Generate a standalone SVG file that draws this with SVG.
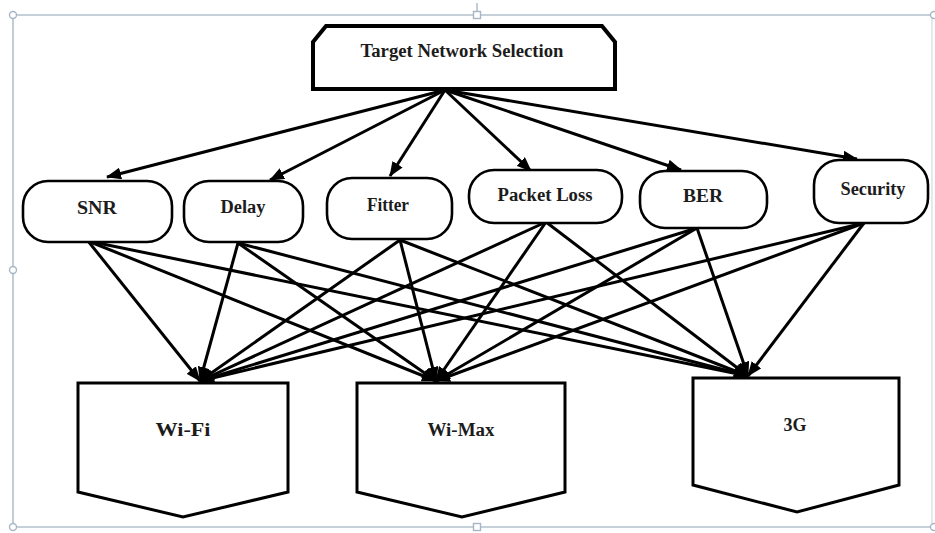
<svg xmlns="http://www.w3.org/2000/svg" width="935" height="533" viewBox="0 0 935 533">
<style>
.frame{fill:none;stroke:#b3c0cd;stroke-width:1.6}
.frame-r{fill:none;stroke:#d3dbe3;stroke-width:1.2}
.handle{fill:#ffffff;stroke:#a7b6c6;stroke-width:1.4}
.crit{fill:#ffffff;stroke:#000000;stroke-width:2.6}
.net{fill:#ffffff;stroke:#000000;stroke-width:3}
.top{fill:#ffffff;stroke:#000000;stroke-width:4}
.lbl{font-family:"Liberation Serif","Times New Roman",serif;font-weight:bold;font-size:18px;fill:#1c1c1c;text-anchor:middle}
.edge{stroke:#000000;stroke-width:3;fill:none;marker-end:url(#ah)}
</style>
<defs>
<marker id="ah" markerUnits="userSpaceOnUse" markerWidth="15" markerHeight="12" refX="14" refY="6" orient="auto">
<path d="M0,0 L15,6 L0,12 z" fill="#000000"/>
</marker>
</defs>
<rect x="0" y="0" width="935" height="533" fill="#ffffff"/>
<g id="frame">
<line class="frame" x1="13" y1="15" x2="935" y2="15"/>
<line class="frame" x1="13" y1="15" x2="13" y2="527"/>
<line class="frame" x1="13" y1="527" x2="935" y2="527"/>
<line class="frame-r" x1="932" y1="15" x2="932" y2="527"/>
<line class="frame" x1="477" y1="3" x2="477" y2="12"/>
<circle class="handle" cx="13" cy="15" r="3.5"/>
<circle class="handle" cx="13" cy="270" r="3.5"/>
<circle class="handle" cx="13" cy="527" r="3.5"/>
<rect class="handle" x="473.5" y="11.5" width="7" height="7"/>
<rect class="handle" x="473.5" y="523.5" width="7" height="7"/>
<circle class="handle" cx="934" cy="15" r="3.5"/>
<circle class="handle" cx="934" cy="527" r="3.5"/>
</g>
<g id="connectors">
<line class="edge" x1="445" y1="90" x2="107" y2="177"/>
<line class="edge" x1="445" y1="90" x2="270" y2="180"/>
<line class="edge" x1="445" y1="90" x2="390" y2="176"/>
<line class="edge" x1="445" y1="90" x2="531" y2="171"/>
<line class="edge" x1="445" y1="90" x2="681" y2="170"/>
<line class="edge" x1="445" y1="90" x2="857" y2="159"/>
<line class="edge" x1="88" y1="241" x2="200" y2="381"/>
<line class="edge" x1="88" y1="241" x2="436" y2="381"/>
<line class="edge" x1="88" y1="241" x2="748" y2="376"/>
<line class="edge" x1="238" y1="243" x2="200" y2="381"/>
<line class="edge" x1="238" y1="243" x2="436" y2="381"/>
<line class="edge" x1="238" y1="243" x2="748" y2="376"/>
<line class="edge" x1="400" y1="240" x2="200" y2="381"/>
<line class="edge" x1="400" y1="240" x2="436" y2="381"/>
<line class="edge" x1="400" y1="240" x2="748" y2="376"/>
<line class="edge" x1="546" y1="222" x2="200" y2="381"/>
<line class="edge" x1="546" y1="222" x2="436" y2="381"/>
<line class="edge" x1="546" y1="222" x2="748" y2="376"/>
<line class="edge" x1="697" y1="228" x2="200" y2="381"/>
<line class="edge" x1="697" y1="228" x2="436" y2="381"/>
<line class="edge" x1="697" y1="228" x2="748" y2="376"/>
<line class="edge" x1="864" y1="223" x2="200" y2="381"/>
<line class="edge" x1="864" y1="223" x2="436" y2="381"/>
<line class="edge" x1="864" y1="223" x2="748" y2="376"/>
</g>
<g id="target">
<polygon class="top" points="326,26 602,26 615,42 615,89 313,89 313,42"/>
<text class="lbl" x="462" y="57" textLength="203" lengthAdjust="spacingAndGlyphs">Target Network Selection</text>
</g>
<g id="snr">
<rect class="crit" x="23" y="181" width="149" height="61" rx="25" ry="25"/>
<text class="lbl" x="97" y="214" textLength="40" lengthAdjust="spacingAndGlyphs">SNR</text>
</g>
<g id="delay">
<rect class="crit" x="184" y="181" width="119" height="61" rx="25" ry="25"/>
<text class="lbl" x="243" y="213" textLength="45" lengthAdjust="spacingAndGlyphs">Delay</text>
</g>
<g id="fitter">
<rect class="crit" x="327" y="178" width="125" height="61" rx="25" ry="25"/>
<text class="lbl" x="388" y="211" textLength="42" lengthAdjust="spacingAndGlyphs">Fitter</text>
</g>
<g id="packet-loss">
<rect class="crit" x="469" y="170" width="153" height="53" rx="25" ry="25"/>
<text class="lbl" x="545" y="201" textLength="95" lengthAdjust="spacingAndGlyphs">Packet Loss</text>
</g>
<g id="ber">
<rect class="crit" x="640" y="171" width="127" height="57" rx="25" ry="25"/>
<text class="lbl" x="703" y="202" textLength="40" lengthAdjust="spacingAndGlyphs">BER</text>
</g>
<g id="security">
<rect class="crit" x="814" y="160" width="114" height="63" rx="25" ry="25"/>
<text class="lbl" x="873" y="195" textLength="65" lengthAdjust="spacingAndGlyphs">Security</text>
</g>
<g id="wifi">
<polygon class="net" points="78,383 288,383 288,492 183,517 78,492"/>
<text class="lbl" x="183" y="436" textLength="55" lengthAdjust="spacingAndGlyphs">Wi-Fi</text>
</g>
<g id="wimax">
<polygon class="net" points="357,383 565,383 565,492 462,517 357,492"/>
<text class="lbl" x="461" y="436" textLength="67" lengthAdjust="spacingAndGlyphs">Wi-Max</text>
</g>
<g id="g3">
<polygon class="net" points="693,378 899,378 899,485 797,512 693,485"/>
<text class="lbl" x="795" y="431" textLength="23" lengthAdjust="spacingAndGlyphs">3G</text>
</g>
</svg>
